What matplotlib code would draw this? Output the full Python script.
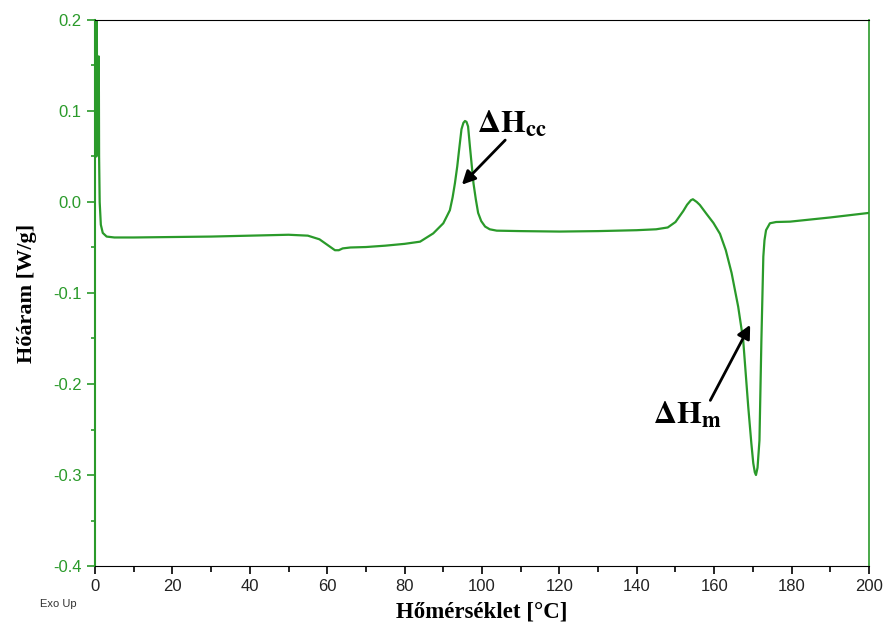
import matplotlib.pyplot as plt
from matplotlib.ticker import MultipleLocator

plt.rcParams['mathtext.fontset'] = 'stix'

# DSC curve
temperature = [0.2, 0.3, 0.35, 0.45, 0.55, 0.7, 0.85, 0.95, 1.0, 1.05, 1.2, 1.5, 2.0, 3.0, 5.0,
               10, 20, 30, 40, 50, 55, 58, 60, 62, 63, 64, 66, 70, 75, 80, 84, 87.4, 90,
               91, 91.7, 92.4, 93.0, 93.6, 94.1, 94.7, 95.2, 95.6, 96.0, 96.4, 96.9, 97.4,
               97.8, 98.4, 99.0, 99.8, 100.8, 102, 103.8, 110, 120,
               130, 140, 145, 148, 150, 152, 153, 154, 154.5, 155.5, 156.3, 158, 159.8,
               161.5, 163, 164.5, 166.2, 167.5, 168.8, 169.6, 170.1, 170.5, 170.8, 171.2,
               171.7, 172.2, 172.7, 173.0, 173.4, 174.4, 176, 179.6, 190, 200]
heat_flow = [0.25, 0.12, 0.05, 0.22, 0.08, 0.06, 0.15, 0.16, 0.12, 0.05, 0.0, -0.025, -0.034,
             -0.038, -0.039, -0.039, -0.0385, -0.038, -0.037, -0.036, -0.037, -0.041, -0.047,
             -0.053, -0.053, -0.051, -0.050, -0.0495, -0.048, -0.046, -0.0436, -0.0345,
             -0.0234, -0.015, -0.009, 0.005, 0.0205, 0.039, 0.058, 0.080, 0.087, 0.089, 0.088,
             0.083, 0.060, 0.038, 0.0205, 0.003, -0.012, -0.021, -0.027, -0.030, -0.0315,
             -0.032, -0.0325, -0.032, -0.031, -0.030, -0.028, -0.022, -0.010, -0.003, 0.002,
             0.003, 0.000, -0.0033, -0.013, -0.023, -0.035, -0.053, -0.078, -0.115, -0.152,
             -0.225, -0.265, -0.287, -0.297, -0.300, -0.292, -0.262, -0.152, -0.06, -0.042,
             -0.031, -0.0234, -0.022, -0.0216, -0.017, -0.012]

green = '#2a9a2a'

fig = plt.figure(figsize=(8.84, 6.28), dpi=100)
ax = fig.add_axes([0.1075, 0.0987, 0.8755, 0.8695])
ax.plot(temperature, heat_flow, color=green, lw=1.6)

ax.set_xlim(0, 200)
ax.set_ylim(-0.4, 0.2)
ax.xaxis.set_major_locator(MultipleLocator(20))
ax.xaxis.set_minor_locator(MultipleLocator(10))
ax.yaxis.set_major_locator(MultipleLocator(0.1))
ax.yaxis.set_minor_locator(MultipleLocator(0.05))
ax.yaxis.set_major_formatter(lambda v, p: f'{v:.1f}')

ax.spines['left'].set_color(green)
ax.spines['right'].set_color(green)
ax.spines['left'].set_linewidth(1.5)
ax.spines['right'].set_linewidth(1.2)
ax.tick_params(axis='y', which='both', colors=green, labelsize=12, width=1.2)
ax.tick_params(axis='y', which='major', length=6)
ax.tick_params(axis='y', which='minor', length=3)
ax.tick_params(axis='x', which='both', colors='black', labelsize=12, width=1.2)
ax.tick_params(axis='x', which='major', length=6)
ax.tick_params(axis='x', which='minor', length=4)
for lab in ax.get_xticklabels() + ax.get_yticklabels():
    lab.set_family('Liberation Sans')
ax.tick_params(axis='x', labelcolor='#222222')

ax.set_xlabel('Hőmérséklet [°C]', family='Liberation Serif', fontweight='bold', fontsize=16.5,
              labelpad=5)
ax.set_ylabel('Hőáram [W/g]', family='Liberation Serif', fontweight='bold', fontsize=16,
              labelpad=12)
fig.text(0.045, 0.033, 'Exo Up', family='Liberation Sans', fontsize=8, color='#333333')

arrow = dict(arrowstyle='-|>', color='black', lw=2, mutation_scale=20, shrinkA=0, shrinkB=0)
ax.annotate('', xy=(94.8, 0.019), xytext=(106, 0.068), arrowprops=arrow)
ax.text(98.8, 0.085, r'$\mathbf{\Delta H}_{\mathbf{cc}}$', fontsize=23, va='center', ha='left')
ax.annotate('', xy=(169.3, -0.135), xytext=(159, -0.218), arrowprops=arrow)
ax.text(144.2, -0.234, r'$\mathbf{\Delta H}_{\mathbf{m}}$', fontsize=23, va='center', ha='left')

fig.savefig('out.png', dpi=100)
